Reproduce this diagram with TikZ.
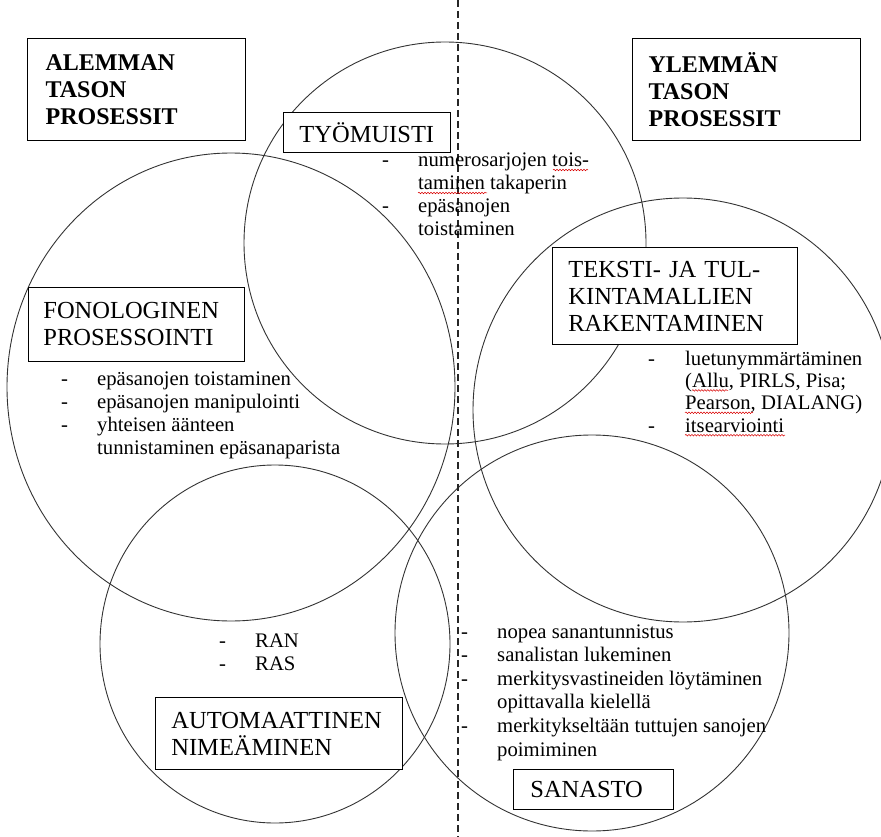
\documentclass[tikz,border=0pt]{standalone}
\usepackage{fontspec}
\setmainfont{Liberation Serif}
\usepackage{tikz}
\usetikzlibrary{decorations.pathmorphing}
\tikzset{
  ring/.style={draw=black!80, line width=0.9pt},
  divider/.style={draw=black!85, line width=1.4pt, dash pattern=on 7pt off 4pt},
  headbox/.style={draw, fill=white, line width=1.3pt, anchor=north west, align=left,
                  inner ysep=0pt, font=\bfseries\fontsize{24}{27}\selectfont},
  labbox/.style={draw, fill=white, line width=0.8pt, anchor=north west, align=left,
                 inner ysep=0pt, font=\fontsize{24.5}{27}\selectfont},
  itemtxt/.style={anchor=base west, inner sep=0pt, font=\fontsize{20.7}{23.3}\selectfont},
  dashmark/.style={itemtxt},
  spell/.style={draw=red!85!black, line width=0.5pt, decorate,
                decoration={snake, amplitude=0.8pt, segment length=3pt}},
}

\begin{document}
\begin{tikzpicture}[x=1pt, y=-1pt]
  \useasboundingbox (0,0) rectangle (881,837);
  % circles
  \draw[ring] (445,243) circle [radius=201pt];
  \draw[ring] (231,387) ellipse [x radius=224pt, y radius=234pt];
  \draw[ring] (683,410) ellipse [x radius=210pt, y radius=212pt];
  \draw[ring] (275,644) ellipse [x radius=175pt, y radius=179pt];
  \draw[ring] (592,633) ellipse [x radius=197pt, y radius=198pt];
  % divider
  \draw[divider] (458,0) -- (458,837);
  % heading boxes
  \node[headbox, text width=182pt, inner xsep=18pt, minimum height=102pt] (lowhead) at (27,38) {ALEMMAN\\TASON\\PROSESSIT};
  \node[headbox, text width=196pt, inner xsep=16pt, minimum height=102pt] (highhead) at (632,38) {YLEMMÄN\\TASON\\PROSESSIT};
  % process boxes
  \node[labbox, text width=135pt, inner xsep=16pt, minimum height=40pt] (tyom) at (283,112) {TYÖMUISTI};
  \node[labbox, text width=186pt, inner xsep=15pt, minimum height=74pt] (fono) at (28,287) {FONOLOGINEN\\PROSESSOINTI};
  \node[labbox, text width=213pt, inner xsep=16pt, minimum height=97pt] (teksti) at (552,247) {TEKSTI- JA TUL-\\KINTAMALLIEN\\RAKENTAMINEN};
  \node[labbox, text width=215pt, inner xsep=16pt, minimum height=72pt] (autom) at (155,697) {AUTOMAATTINEN\\NIMEÄMINEN};
  \node[labbox, text width=126pt, inner xsep=17pt, minimum height=40pt] (sanasto) at (513,769) {SANASTO};
  % tyomuisti items
  \foreach \t [count=\i] in {numerosarjojen tois-, taminen takaperin, epäsanojen, toistaminen}
    \node[itemtxt] (tm\i) at (418,{167+23*(\i-1)}) {\t};
  \foreach \i in {1,3}
    \node[dashmark] (tmd\i) at (382,{167+23*(\i-1)}) {-};
  % fonologinen items
  \foreach \t [count=\i] in {epäsanojen toistaminen, epäsanojen manipulointi, yhteisen äänteen, tunnistaminen epäsanaparista}
    \node[itemtxt] (fo\i) at (97,{385+23.3*(\i-1)}) {\t};
  \foreach \i in {1,2,3}
    \node[dashmark] (fod\i) at (61,{385+23.3*(\i-1)}) {-};
  % teksti items
  \foreach \t [count=\i] in {luetunymmärtäminen, {(Allu, PIRLS, Pisa;}, {Pearson, DIALANG)}, itsearviointi}
    \node[itemtxt] (tk\i) at (685,{365+22.4*(\i-1)}) {\t};
  \foreach \i in {1,4}
    \node[dashmark] (tkd\i) at (648,{365+22.4*(\i-1)}) {-};
  % automaattinen items
  \foreach \t [count=\i] in {RAN, RAS}
    \node[itemtxt] (ra\i) at (255,{647+23*(\i-1)}) {\t};
  \foreach \i in {1,2}
    \node[dashmark] (rad\i) at (219,{647+23*(\i-1)}) {-};
  % sanasto items
  \foreach \t [count=\i] in {nopea sanantunnistus, sanalistan lukeminen, merkitysvastineiden löytäminen, opittavalla kielellä, merkitykseltään tuttujen sanojen, poimiminen}
    \node[itemtxt] (sa\i) at (497,{638+23.6*(\i-1)}) {\t};
  \foreach \i in {1,2,3,5}
    \node[dashmark] (sad\i) at (461,{638+23.6*(\i-1)}) {-};
  % spell check waves
  \draw[spell] ([shift={(135,3)}]tm1.base west) -- ++(35,0);
  \draw[spell] ([shift={(0,3)}]tm2.base west) -- ++(69,0);
  \draw[spell] ([shift={(7,3)}]tk2.base west) -- ++(36,0);
  \draw[spell] ([shift={(0,3)}]tk3.base west) -- ++(68,0);
  \draw[spell] ([shift={(0,3)}]tk4.base west) -- ++(100,0);
\end{tikzpicture}
\end{document}
